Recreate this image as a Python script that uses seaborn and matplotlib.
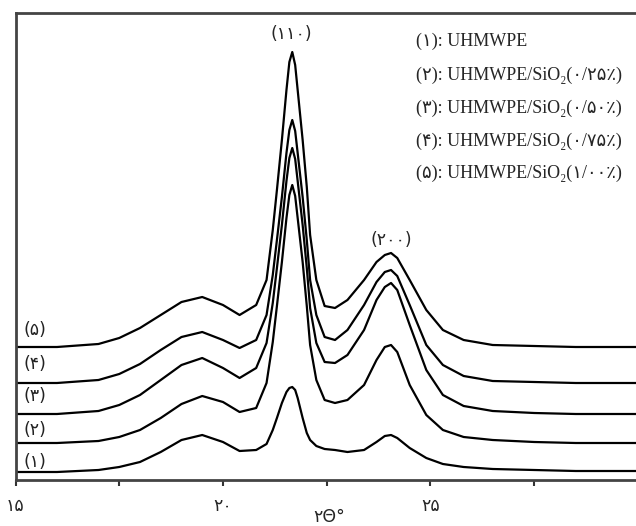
import numpy as np
import pandas as pd
import matplotlib
matplotlib.use("Agg")
import matplotlib.pyplot as plt
import seaborn as sns

# 2-theta positions (degrees)
two_theta = [15, 16, 17, 17.5, 18, 18.5, 19, 19.5, 20, 20.4,
             20.8, 21.05, 21.2, 21.3, 21.42, 21.53, 21.6, 21.67, 21.74, 21.8,
             21.92, 22.02, 22.1, 22.25, 22.45, 22.7,
             23.0, 23.4, 23.7, 23.9, 24.05, 24.2, 24.5, 24.9, 25.3, 25.8,
             26.5, 27.5, 28.5, 30.05]

# intensity (arb. units, offset curves)
curve_1 = [8, 8, 10, 13, 18, 28, 40, 45, 38, 29,
           30, 36, 50, 62, 77, 88, 92, 93, 90, 82, 62, 47, 40, 34, 31, 30,
           28, 30, 38, 44, 45, 42, 32, 22, 16, 13, 11, 10, 9, 9]
curve_2 = [37, 37, 39, 43, 50, 62, 76, 84, 78, 68,
           72, 97, 138, 174, 218, 262, 285, 295, 284, 262, 218, 174, 135, 100, 80, 77,
           80, 95, 120, 133, 135, 128, 95, 65, 50, 43, 40, 38, 37, 37]
curve_3 = [66, 66, 69, 75, 85, 100, 115, 122, 112, 102,
           112, 137, 177, 212, 255, 299, 322, 332, 321, 299, 255, 212, 172, 137, 118, 117,
           125, 150, 180, 193, 197, 190, 155, 110, 85, 74, 69, 67, 66, 66]
curve_4 = [97, 97, 100, 106, 116, 130, 143, 148, 140, 132,
           140, 165, 205, 240, 283, 327, 350, 360, 349, 327, 283, 240, 200, 165, 143, 140,
           150, 175, 198, 208, 210, 204, 175, 135, 115, 104, 99, 98, 97, 97]
curve_5 = [133, 133, 136, 142, 152, 165, 178, 183, 175, 165,
           175, 200, 250, 290, 340, 390, 418, 428, 415, 390, 340, 293, 245, 200, 174, 172,
           180, 200, 218, 225, 227, 222, 200, 170, 150, 140, 135, 134, 133, 133]
curves = [curve_1, curve_2, curve_3, curve_4, curve_5]

curve_tags = ["(۱)", "(۲)", "(۳)", "(۴)", "(۵)"]
legend_lines = ["(۱): UHMWPE",
                "(۲): UHMWPE/SiO₂(۰/۲۵٪)",
                "(۳): UHMWPE/SiO₂(۰/۵۰٪)",
                "(۴): UHMWPE/SiO₂(۰/۷۵٪)",
                "(۵): UHMWPE/SiO₂(۱/۰۰٪)"]
peak_labels = ["(۱۱۰)", "(۲۰۰)"]
peak_pos = [21.65, 24.05]
xtick_vals = [15, 20, 25]
xtick_labels = ["۱۵", "۲۰", "۲۵"]
minor_vals = [17.5, 22.5, 27.5]

sns.set_style("white")
plt.rcParams['font.family'] = ['Liberation Serif', 'DejaVu Sans']
fam = ['Liberation Serif', 'DejaVu Sans']

fig = plt.figure(figsize=(6.36, 5.26), dpi=100)
ax = fig.add_axes([15.5 / 636, 46 / 526, (640 - 15.5) / 636, 467 / 526])

for c in curves:
    sns.lineplot(x=two_theta, y=c, color="black", linewidth=1.6, ax=ax)

ax.set_xlim(15, 30.05)
ax.set_ylim(0, 467)
ax.set_yticks([])
ax.set_xticks(xtick_vals)
ax.set_xticklabels(xtick_labels, fontsize=12.5, family=['DejaVu Sans'])
ax.set_xticks(minor_vals, minor=True)
ax.tick_params(axis='x', which='both', direction='out', length=4, width=1.5,
               color='#333333', pad=8, bottom=True)
for side in ['left', 'bottom', 'top']:
    ax.spines[side].set_color('#444444')
    ax.spines[side].set_linewidth(2)
ax.spines['right'].set_visible(False)

ax.text(22.55, -28, "۲Θ°", fontsize=12.5, family=['DejaVu Sans'], ha='center',
        va='top', clip_on=False)

# curve tags at the left
tag_y = [18, 50, 84, 116, 150]
for t, yy in zip(curve_tags, tag_y):
    ax.text(15.2, yy, t, fontsize=12.5, family=['DejaVu Sans'], color='#222222',
            ha='left', va='center')

# peak labels
ax.text(peak_pos[0], 446, peak_labels[0], fontsize=12.5, family=['DejaVu Sans'],
        ha='center', va='center')
ax.text(peak_pos[1], 240, peak_labels[1], fontsize=12.5, family=['DejaVu Sans'],
        ha='center', va='center')

# legend-like text block
row_y = [439, 405, 372, 339, 307]
for s, yy in zip(legend_lines, row_y):
    ax.text(24.64, yy, s, fontsize=13, family=fam, ha='left', va='center')

fig.savefig("out.png", dpi=100)
